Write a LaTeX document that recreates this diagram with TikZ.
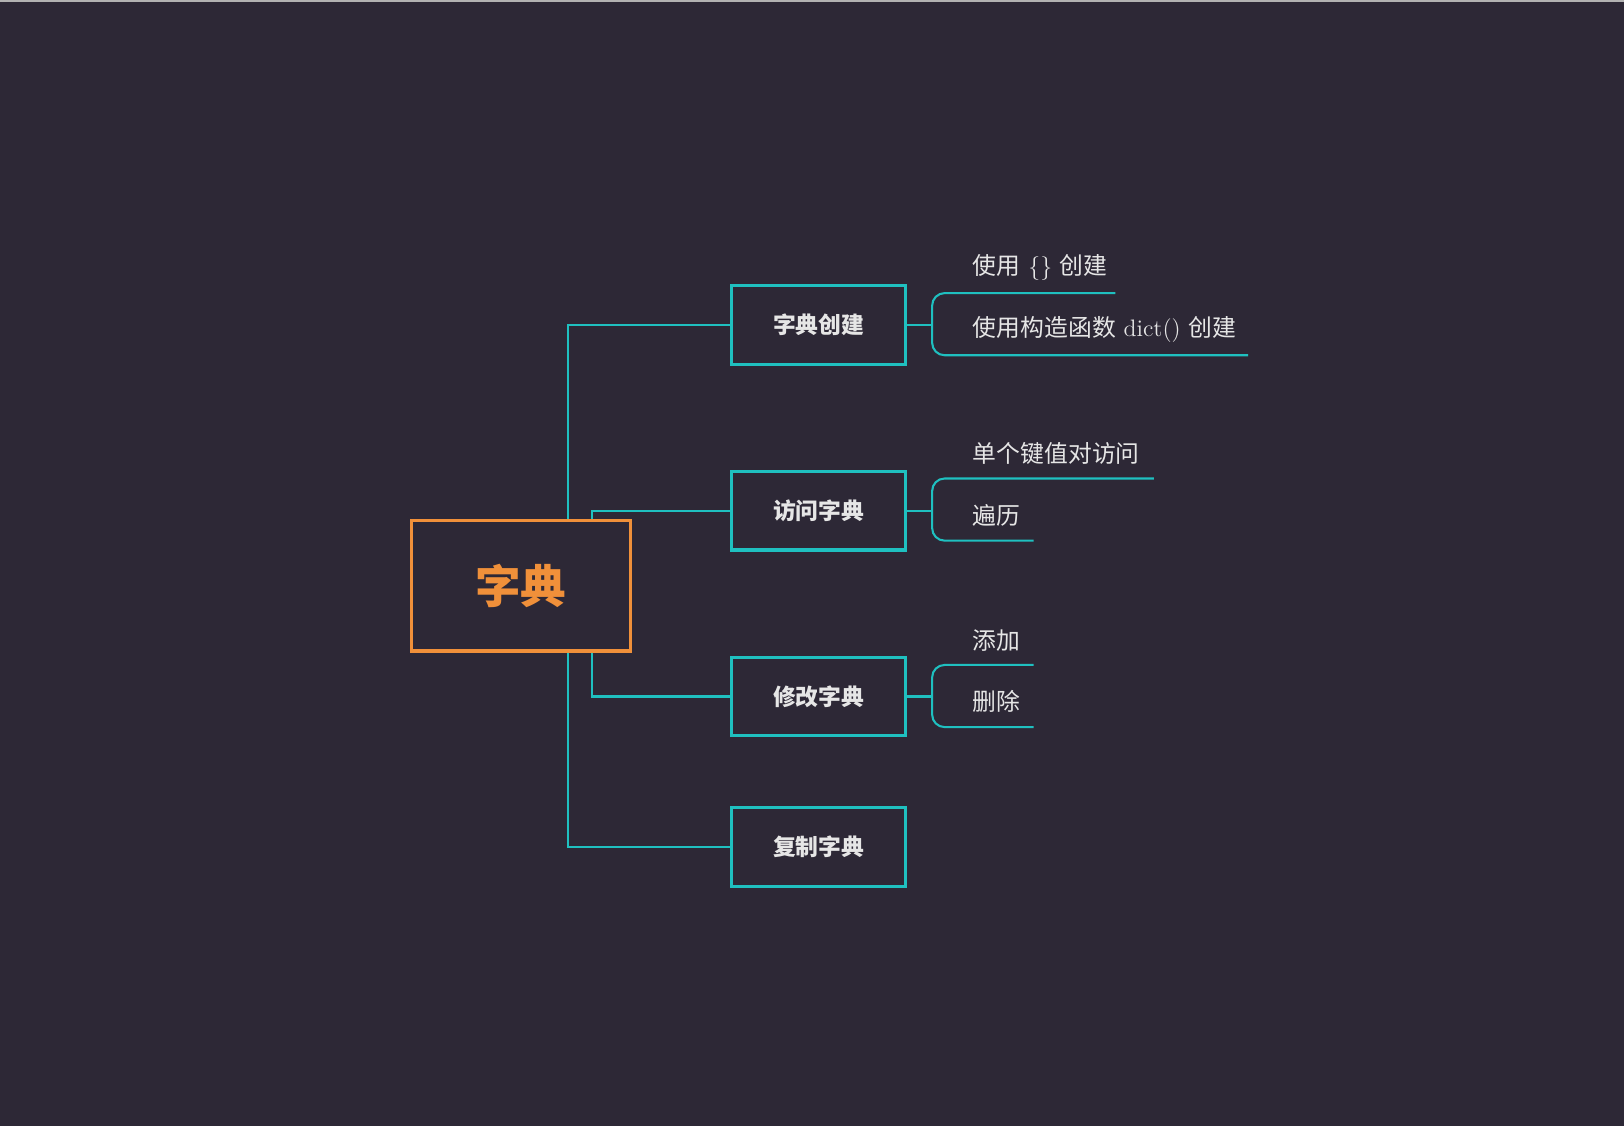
\documentclass[tikz,border=0pt]{standalone}
\usepackage{fontspec}
\newfontfamily\cjk{Noto Sans CJK SC}
\definecolor{bg}{HTML}{2D2836}
\definecolor{cy}{HTML}{1FC0C0}
\definecolor{org}{HTML}{F0903A}
\definecolor{tx}{HTML}{E6E6E6}
\begin{document}
\begin{tikzpicture}[x=0.5pt,y=-0.5pt,
  root/.style={draw=org,line width=1.5pt,minimum width=106pt,minimum height=63pt,inner sep=0pt,text=org,font=\cjk\bfseries\fontsize{22}{24}\selectfont},
  br/.style={draw=cy,line width=1.5pt,minimum width=84pt,minimum height=38pt,inner sep=0pt,text=tx,font=\cjk\bfseries\fontsize{11}{13}\selectfont},
  leaf/.style={anchor=west,text=tx,inner sep=0pt,font=\fontsize{11.5}{13}\selectfont},
  ln/.style={draw=cy,line width=1pt},
  rc/.style={ln,rounded corners=6pt}]
\fill[bg] (0,0) rectangle (1568,1087);
\useasboundingbox (0,0) rectangle (1568,1087);
\draw[gray!60,line width=1pt] (0,1) -- (1568,1);
\node[root] (r) at (503,565.5) {字典};
\node[br] (b1) at (790.5,313.5) {字典创建};
\node[br] (b2) at (790.5,493) {访问字典};
\node[br] (b3) at (790.5,672.5) {修改字典};
\node[br] (b4) at (790.5,817.5) {复制字典};
\draw[ln] (r.north -| 548,0) |- (b1.west);
\draw[ln] (r.north -| 572,0) |- (b2.west);
\draw[ln] (r.south -| 572,0) |- (b3.west);
\draw[ln] (r.south -| 548,0) |- (b4.west);
\node[leaf] (l1) at (939,258) {{\cjk 使用} \{\} {\cjk 创建}};
\node[leaf] (l2) at (939,318) {{\cjk 使用构造函数} dict() {\cjk 创建}};
\node[leaf] (l3) at (939,438) {\cjk 单个键值对访问};
\node[leaf] (l4) at (939,498) {\cjk 遍历};
\node[leaf] (l5) at (939,618) {\cjk 添加};
\node[leaf] (l6) at (939,677) {\cjk 删除};
\coordinate (a1) at (1077,283); \coordinate (c1) at (1205,343);
\coordinate (a2) at (1114,462); \coordinate (c2) at (998,522);
\coordinate (a3) at (998,642);  \coordinate (c3) at (998,702);
\draw[ln] (b1.east) -- (b1.east -| 900,0);
\draw[ln] (b2.east) -- (b2.east -| 900,0);
\draw[ln] (b3.east) -- (b3.east -| 900,0);
\draw[rc] (a1) -| (900,343) -- (c1);
\draw[rc] (a2) -| (900,522) -- (c2);
\draw[rc] (a3) -| (900,702) -- (c3);
\end{tikzpicture}
\end{document}
